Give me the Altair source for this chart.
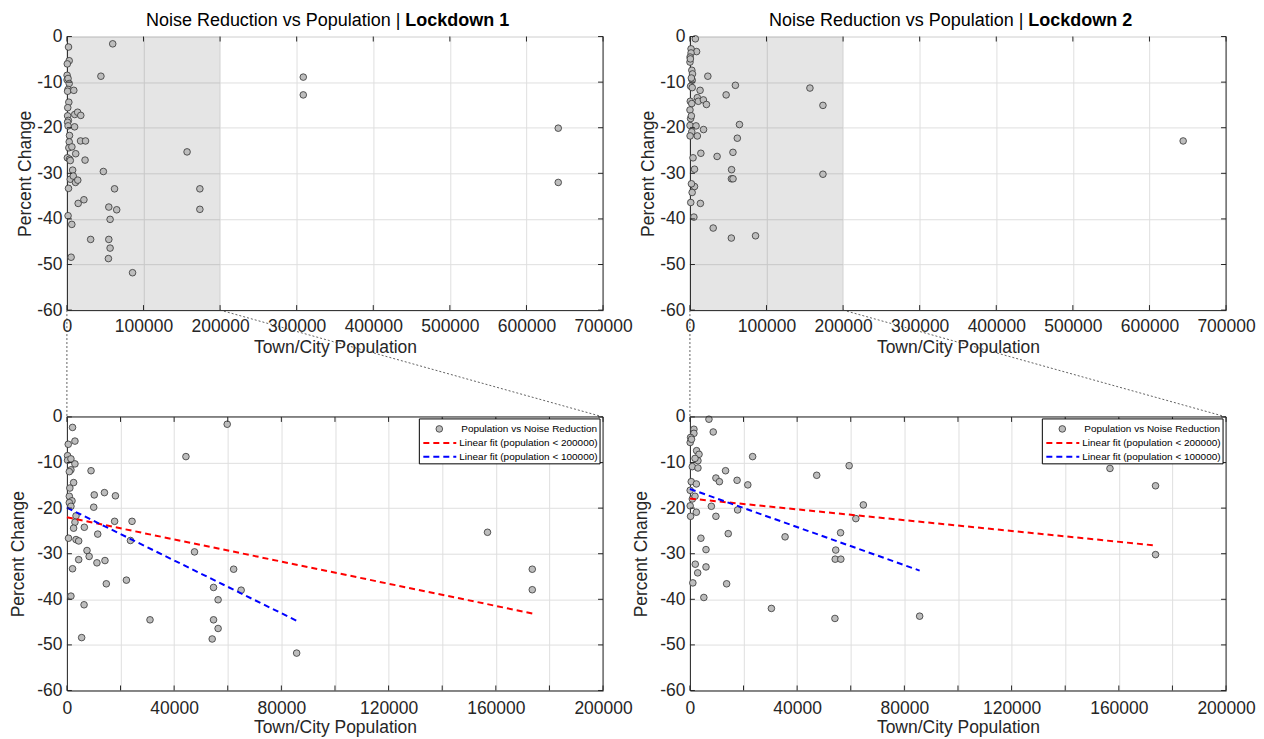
import altair as alt
import pandas as pd

# ---------------- data ----------------
L1_POP = [2100, 3000, 500, 250, 250, 1500, 3000, 1500, 900, 2500, 1100, 900, 1900, 900, 1500,
          3400, 3000, 2500, 600, 3400, 4400, 6500, 4400, 2100, 1500, 6400, 5500, 9000, 10200,
          10000, 11500, 7500, 8300, 11200, 14000, 18100, 17800, 14200, 14700, 24300, 23700,
          22200, 31000, 44400, 47600, 59800, 62200, 65000, 54700, 56400, 54700, 56400, 54200,
          85700, 156900, 173600, 173600, 308600, 308600, 641500, 641500]
L1_CHANGE = [-2.3, -5.3, -6.0, -8.5, -9.5, -9.2, -10.3, -11.6, -12.0, -14.4, -15.6, -17.4, -18.4,
             -18.8, -19.6, -21.7, -23.1, -24.4, -26.6, -26.9, -27.2, -24.2, -31.3, -33.3, -39.3,
             -41.2, -48.4, -11.8, -17.1, -19.8, -25.7, -29.3, -30.6, -32.0, -16.6, -17.3, -22.9,
             -31.5, -36.6, -22.9, -27.1, -35.8, -44.5, -8.7, -29.6, -1.6, -33.4, -38.0, -37.4,
             -40.1, -44.5, -46.4, -48.7, -51.8, -25.3, -33.4, -37.9, -8.9, -12.8, -20.1, -32.0]

L2_POP = [7100, 8700, 1500, 1500, 250, 100, 600, 2500, 3400, 3000, 1900, 900, 3000, 500, 2400,
          100, 900, 1900, 100, 2400, 250, 8000, 9700, 11000, 9700, 13300, 17600, 21600, 23400,
          17800, 14300, 4100, 6000, 6000, 2000, 2900, 1100, 5200, 13700, 35500, 30400, 47300,
          59400, 64700, 61900, 56200, 54400, 54200, 56300, 54100, 85700, 156700, 173700, 173700,
          644000]
L2_CHANGE = [-0.5, -3.3, -2.7, -3.6, -4.5, -5.6, -4.9, -7.4, -8.2, -9.6, -9.1, -10.9, -11.2, -14.2,
             -14.7, -16.1, -18.0, -17.4, -19.5, -20.9, -21.8, -19.6, -13.4, -14.2, -21.8, -11.8,
             -13.9, -14.9, -8.7, -20.4, -25.6, -26.6, -29.1, -32.9, -32.3, -34.2, -36.4, -39.6,
             -36.6, -26.3, -42.0, -12.8, -10.7, -19.3, -22.3, -25.4, -29.2, -31.2, -31.2, -44.2,
             -43.7, -11.3, -15.1, -30.2, -22.9]

# linear fit end points
L1_FIT200_POP = [0, 173600]
L1_FIT200_CHANGE = [-22.0, -43.1]
L1_FIT100_POP = [0, 85700]
L1_FIT100_CHANGE = [-19.9, -44.7]
L2_FIT200_POP = [0, 173700]
L2_FIT200_CHANGE = [-17.9, -28.2]
L2_FIT100_POP = [0, 85700]
L2_FIT100_CHANGE = [-15.8, -33.7]

TOP_X_TICKS = [0, 100000, 200000, 300000, 400000, 500000, 600000, 700000]
BOT_X_TICKS = [0, 20000, 40000, 60000, 80000, 100000, 120000, 140000, 160000, 180000, 200000]
Y_TICKS = [-60, -50, -40, -30, -20, -10, 0]

SERIES_LABELS = ["Population vs Noise Reduction",
                 "Linear fit (population < 200000)",
                 "Linear fit (population < 100000)"]
TITLE_MAIN = "Noise Reduction vs Population |"
TITLE_BOLD = ["Lockdown 1", "Lockdown 2"]
X_TITLE = "Town/City Population"
Y_TITLE = "Percent Change"

# ---------------- layout / style ----------------
W, H = 537, 274
COL_GAP, ROW_GAP = 87, 107
TOP_XMAX, BOT_XMAX, ZOOM_MAX = 700000, 200000, 200000
YMIN, YMAX = -60, 0
FONT = "Liberation Sans, Arial, Helvetica, sans-serif"
DARK = "#262626"
GRID = "#dfdfdf"
PT_FILL = "#bdbdbd"
PT_STROKE = "#333333"
TICK_LEN = 5
FS = 17.5

ONE = pd.DataFrame({"k": [0]})


def panel(pop, change, kind, idx, fits=None):
    top = kind == "top"
    xmax = TOP_XMAX if top else BOT_XMAX
    xticks = TOP_X_TICKS if top else BOT_X_TICKS
    xs = alt.Scale(domain=[0, xmax], nice=False, zero=False)
    ys = alt.Scale(domain=[YMIN, YMAX], nice=False, zero=False)
    xkw = dict(values=xticks, grid=True, gridColor=GRID, ticks=False,
               domainColor=DARK, labelColor=DARK, labelFontSize=FS, labelFlush=False,
               labelOverlap=False, labelPadding=7 if top else 9, title=X_TITLE,
               titleFontSize=FS, titleFontWeight="normal", titleColor=DARK,
               titlePadding=4 if top else 2)
    if top:
        xkw["labelExpr"] = "'' + datum.value"
    else:
        xkw["labelExpr"] = "datum.value % 40000 == 0 ? '' + datum.value : ''"
    xax = alt.Axis(**xkw)
    yax = alt.Axis(values=Y_TICKS, labelExpr="'' + datum.value", grid=True, gridColor=GRID,
                   ticks=False, domainColor=DARK, labelColor=DARK, labelFontSize=FS,
                   labelPadding=5, labelFlush=False, labelOverlap=False, title=Y_TITLE,
                   titleFontSize=FS, titleFontWeight="normal", titleColor=DARK,
                   titlePadding=2.5 if top else 9.5)

    def X(field=None, datum=None):
        if field is not None:
            return alt.X(field, type="quantitative", scale=xs, axis=xax)
        return alt.X(datum=datum, type="quantitative", scale=xs, axis=xax)

    def Y(field=None, datum=None):
        if field is not None:
            return alt.Y(field, type="quantitative", scale=ys, axis=yax)
        return alt.Y(datum=datum, type="quantitative", scale=ys, axis=yax)

    layers = []
    df = pd.DataFrame({"pop": pop, "change": change})

    if top:
        shade = alt.Chart(pd.DataFrame({"lo": [0], "hi": [ZOOM_MAX]})).mark_rect(
            color="#000000", opacity=0.1).encode(
            x=X("lo"), x2=alt.X2("hi"), y=Y(datum=YMIN), y2=alt.Y2(datum=YMAX))
        layers.append(shade)

    pts = alt.Chart(df).mark_point(shape="circle", filled=True, fill=PT_FILL, stroke=PT_STROKE,
                                   strokeWidth=0.8, size=44, opacity=1).encode(
        x=X("pop"), y=Y("change"))
    if not top:
        pts = pts.transform_filter(f"datum.pop < {ZOOM_MAX}")
    layers.append(pts)

    if fits is not None:
        for (fx, fy, col) in fits:
            fdf = pd.DataFrame({"pop": fx, "change": fy})
            layers.append(alt.Chart(fdf).mark_line(color=col, strokeWidth=2,
                                                   strokeDash=[6, 4]).encode(
                x=X("pop"), y=Y("change")))

    # inward ticks
    xt = pd.DataFrame({"v": xticks})
    yt = pd.DataFrame({"v": Y_TICKS})
    rule = dict(color=DARK, strokeWidth=1)
    layers.append(alt.Chart(xt).mark_rule(**rule).encode(
        x=X("v"), y=alt.value(H), y2=alt.value(H - TICK_LEN)))
    layers.append(alt.Chart(xt).mark_rule(**rule).encode(
        x=X("v"), y=alt.value(0), y2=alt.value(TICK_LEN)))
    layers.append(alt.Chart(yt).mark_rule(**rule).encode(
        y=Y("v"), x=alt.value(0), x2=alt.value(TICK_LEN)))
    layers.append(alt.Chart(yt).mark_rule(**rule).encode(
        y=Y("v"), x=alt.value(W - TICK_LEN), x2=alt.value(W)))

    # right border (and top border on the zoomed panels)
    layers.append(alt.Chart(ONE).mark_rule(**rule).encode(
        x=X(datum=xmax), y=Y(datum=YMIN), y2=alt.Y2(datum=YMAX)))
    if not top:
        layers.append(alt.Chart(ONE).mark_rule(**rule).encode(
            y=Y(datum=YMAX), x=X(datum=0), x2=alt.X2(datum=xmax)))

    if top:
        layers.append(alt.Chart(ONE).mark_text(
            text=TITLE_MAIN, align="right", baseline="alphabetic", fontSize=18, font=FONT,
            color="black").encode(x=alt.value(334), y=alt.value(-11)))
        layers.append(alt.Chart(ONE).mark_text(
            text=TITLE_BOLD[idx], align="left", baseline="alphabetic", fontSize=18, font=FONT,
            fontWeight="bold", color="black").encode(x=alt.value(339), y=alt.value(-11)))
    else:
        # legend box
        layers.append(alt.Chart(ONE).mark_rect(fill="white", stroke="black", strokeWidth=1).encode(
            x=alt.value(353), x2=alt.value(534), y=alt.value(2), y2=alt.value(47)))
        layers.append(alt.Chart(ONE).mark_point(shape="circle", filled=True, fill=PT_FILL,
                                                stroke=PT_STROKE, strokeWidth=0.8, size=44,
                                                opacity=1).encode(
            x=alt.value(373), y=alt.value(12)))
        layers.append(alt.Chart(ONE).mark_rule(color="red", strokeWidth=2, strokeDash=[6, 4]).encode(
            x=alt.value(357), x2=alt.value(390), y=alt.value(26)))
        layers.append(alt.Chart(ONE).mark_rule(color="blue", strokeWidth=2, strokeDash=[6, 4]).encode(
            x=alt.value(357), x2=alt.value(390), y=alt.value(40)))
        for i, ty in enumerate([12, 26, 40]):
            layers.append(alt.Chart(ONE).mark_text(
                text=SERIES_LABELS[i], align="left", baseline="middle", fontSize=10, font=FONT,
                color="black").encode(x=alt.value(393 if i else 395), y=alt.value(ty)))
        # dotted connectors to the overview panel above
        cx = ZOOM_MAX * BOT_XMAX / TOP_XMAX
        cy = YMAX + ROW_GAP / H * (YMAX - YMIN)
        dots = dict(color="#3a3a3a", strokeWidth=0.8, strokeDash=[2, 2])
        layers.append(alt.Chart(ONE).mark_rule(**dots).encode(
            x=X(datum=cx), y=Y(datum=cy), x2=alt.X2(datum=ZOOM_MAX), y2=alt.Y2(datum=YMAX)))
        layers.append(alt.Chart(ONE).mark_rule(**dots).encode(
            x=X(datum=0), y=Y(datum=cy), y2=alt.Y2(datum=YMAX)))

    return alt.layer(*layers).properties(width=W, height=H)


tl = panel(L1_POP, L1_CHANGE, "top", 0)
tr = panel(L2_POP, L2_CHANGE, "top", 1)
bl = panel(L1_POP, L1_CHANGE, "bottom", 0,
           fits=[(L1_FIT200_POP, L1_FIT200_CHANGE, "red"),
                 (L1_FIT100_POP, L1_FIT100_CHANGE, "blue")])
br = panel(L2_POP, L2_CHANGE, "bottom", 1,
           fits=[(L2_FIT200_POP, L2_FIT200_CHANGE, "red"),
                 (L2_FIT100_POP, L2_FIT100_CHANGE, "blue")])

chart = alt.concat(tl, tr, bl, br, columns=2,
                   spacing={"row": ROW_GAP, "column": COL_GAP},
                   bounds="flush").properties(
    padding={"left": 0, "top": 2, "right": 0, "bottom": 0}
).configure_view(stroke=None).configure(font=FONT, background="white")

chart.save("out.html", embed_options={"renderer": "svg", "actions": False})
